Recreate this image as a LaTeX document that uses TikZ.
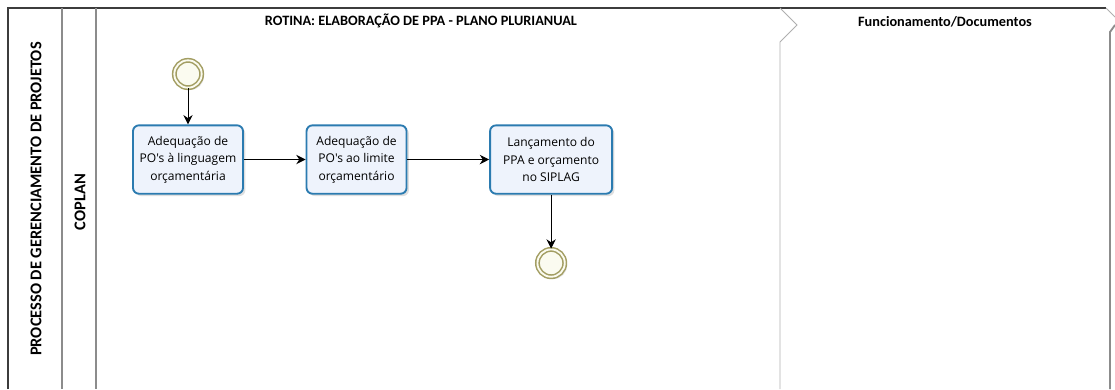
\documentclass[tikz,border=0pt]{standalone}
\usepackage{fontspec}
\newfontfamily\headfont{Carlito}
\newfontfamily\taskfont{Open Sans}
\usetikzlibrary{positioning, arrows.meta, shadows}
\definecolor{taskline}{HTML}{2B7BB0}
\definecolor{taskfill}{HTML}{EEF3FC}
\definecolor{eventline}{HTML}{A39E63}
\definecolor{eventfill}{HTML}{FBFBF0}
\definecolor{poolline}{HTML}{3C3C3C}
\definecolor{laneline}{HTML}{8C8C8C}

\begin{document}
\begin{tikzpicture}
	% style
	[x=0.03cm, y=-0.03cm,
	task/.style={rectangle, rounded corners=5pt, draw=taskline, fill=taskfill, line width=1.6pt, align=center, font=\taskfont\fontsize{10.3}{15}\selectfont, minimum height=2.05cm, inner sep=1pt, drop shadow={opacity=0.25, shadow xshift=2pt, shadow yshift=-2pt}},
	event/.style={circle, draw=eventline, fill=eventfill, line width=1.3pt, double=eventfill, double distance=1.6pt, minimum size=0.82cm, inner sep=0pt, drop shadow={opacity=0.2, shadow xshift=2pt, shadow yshift=-2pt}},
	flow/.style={-{Stealth[length=8pt, width=8pt]}, thick, black},
	pool/.style={draw=poolline, line width=0.9pt},
	lane/.style={draw=laneline, line width=0.9pt},
	phase/.style={draw=laneline!70, line width=0.8pt},
	header/.style={font=\headfont\bfseries\fontsize{12.2}{14}\selectfont},
	vheader/.style={font=\headfont\bfseries\fontsize{14}{16}\selectfont, rotate=90}]
	\useasboundingbox (0,0) rectangle (1115,389);

	% pool and lane
	\draw[pool] (8,389) -- (8,8) -- (1106,8);
	\draw[lane] (62,8) -- (62,389);
	\draw[lane] (96,8) -- (96,389);
	\draw[phase] (780,8) -- (797,25) -- (780,42) -- (780,389);
	\draw[phase] (1106,8) -- (1115,17);
	\draw[draw=laneline, line width=1.6pt] (1115,25) -- (1110,32) -- (1110,389);

	% labels
	\node [vheader] (pool_label) at (36,199) {PROCESSO DE GERENCIAMENTO DE PROJETOS};
	\node [vheader] (lane_label) at (80,202) {COPLAN};
	\node [header] (rotina) at (421,21) {ROTINA: ELABORAÇÃO DE PPA - PLANO PLURIANUAL};
	\node [header] (docs) at (945,22) {Funcionamento/Documentos};

	% process
	\node [event] (start) at (188,74) {};
	\node [task, minimum width=3.3cm, node distance=1.08cm] (task_a) [below=of start] {Adequação de\\PO's à linguagem\\orçamentária};
	\node [task, minimum width=3.0cm, node distance=1.85cm] (task_b) [right=of task_a] {Adequação de\\PO's ao limite\\orçamentário};
	\node [task, minimum width=3.66cm, node distance=2.45cm] (task_c) [right=of task_b] {Lançamento do\\PPA e orçamento\\no SIPLAG};
	\node [event, node distance=1.62cm] (end) [below=of task_c] {};

	\path[flow] (start)  edge (task_a)
	            (task_a) edge (task_b)
	            (task_b) edge (task_c)
	            (task_c) edge (end);
\end{tikzpicture}
\end{document}
